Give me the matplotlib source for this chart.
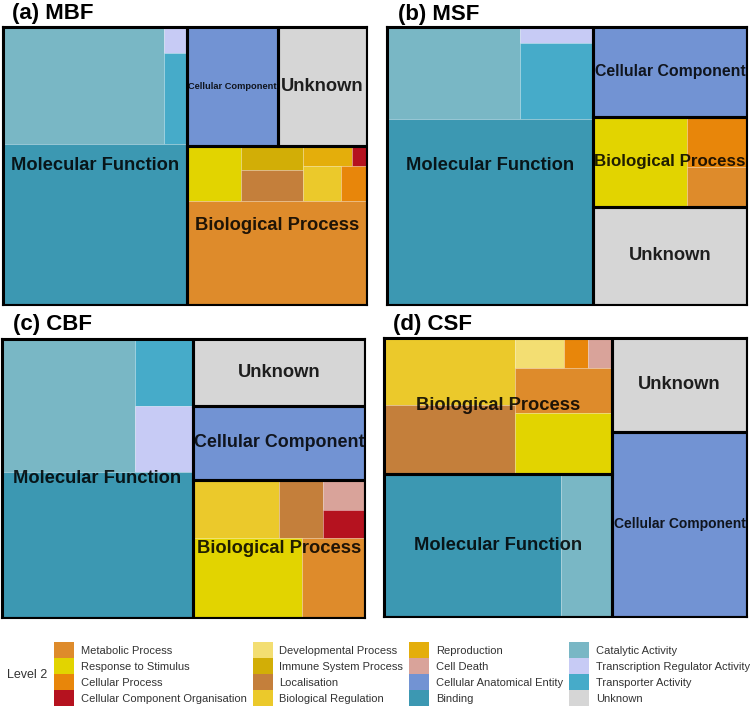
import matplotlib
matplotlib.use("Agg")
import matplotlib.pyplot as plt
from matplotlib.patches import Rectangle, Patch

plt.rcParams['font.family'] = ['Liberation Sans', 'DejaVu Sans']

# colour of each level-2 term
COLORS = {
    'Metabolic Process': '#DE8B2B',
    'Response to Stimulus': '#E2D400',
    'Cellular Process': '#E8860A',
    'Cellular Component Organisation': '#B5121F',
    'Developmental Process': '#F3DE72',
    'Immune System Process': '#D2AE06',
    'Localisation': '#C47F3B',
    'Biological Regulation': '#EBC92B',
    'Reproduction': '#E4AE0B',
    'Cell Death': '#D9A39A',
    'Cellular Anatomical Entity': '#7293D3',
    'Binding': '#3C98B2',
    'Catalytic Activity': '#79B7C5',
    'Transcription Regulator Activity': '#C7CBF5',
    'Transporter Activity': '#46ABC9',
    'Unknown': '#D6D6D6',
}
LEGEND_ORDER = list(COLORS)

MF_TERMS = ['Binding', 'Catalytic Activity', 'Transcription Regulator Activity', 'Transporter Activity']
GROUP_OF = {t: 'Biological Process' for t in COLORS}
GROUP_OF.update({t: 'Molecular Function' for t in MF_TERMS})
GROUP_OF['Cellular Anatomical Entity'] = 'Cellular Component'
GROUP_OF['Unknown'] = 'Unknown'

# (a) MBF, percentage of annotations
MBF_TERMS = ['Binding', 'Catalytic Activity', 'Transporter Activity', 'Transcription Regulator Activity',
             'Cellular Anatomical Entity', 'Unknown',
             'Metabolic Process', 'Response to Stimulus', 'Localisation', 'Immune System Process',
             'Biological Regulation', 'Reproduction', 'Cellular Process', 'Cellular Component Organisation']
MBF_PCT = [29.3, 18.6, 2.1, 0.6, 10.7, 10.5, 18.5, 2.9, 1.9, 1.5, 1.3, 0.95, 0.9, 0.3]

# (b) MSF
MSF_TERMS = ['Binding', 'Catalytic Activity', 'Transporter Activity', 'Transcription Regulator Activity',
             'Cellular Anatomical Entity', 'Unknown',
             'Response to Stimulus', 'Cellular Process', 'Metabolic Process']
MSF_PCT = [38.3, 12.2, 5.5, 1.2, 13.8, 15.1, 8.5, 3.0, 2.4]

# (c) CBF
CBF_TERMS = ['Binding', 'Catalytic Activity', 'Transporter Activity', 'Transcription Regulator Activity',
             'Cellular Anatomical Entity', 'Unknown',
             'Response to Stimulus', 'Biological Regulation', 'Metabolic Process', 'Localisation',
             'Cell Death', 'Cellular Component Organisation']
CBF_PCT = [27.4, 17.5, 3.8, 3.7, 12.6, 11.3, 8.6, 5.0, 4.9, 2.5, 1.25, 1.2]

# (d) CSF
CSF_TERMS = ['Binding', 'Catalytic Activity', 'Cellular Anatomical Entity', 'Unknown',
             'Localisation', 'Biological Regulation', 'Response to Stimulus', 'Metabolic Process',
             'Developmental Process', 'Cellular Process', 'Cell Death']
CSF_PCT = [25.0, 7.2, 24.7, 12.5, 8.9, 8.7, 5.8, 4.3, 1.45, 0.7, 0.7]

# split structure of each treemap ('h' = side by side, 'v' = stacked)
MBF_LAYOUT = (
    ('h', ['Molecular Function', ('v', [('h', ['Cellular Component', 'Unknown']), 'Biological Process'])]),
    {'Molecular Function': ('v', [('h', ['Catalytic Activity', ('v', ['Transcription Regulator Activity',
                                                                       'Transporter Activity'])]), 'Binding']),
     'Biological Process': ('v', [('h', ['Response to Stimulus',
                                         ('v', ['Immune System Process', 'Localisation']),
                                         ('v', [('h', ['Reproduction', 'Cellular Component Organisation']),
                                                ('h', ['Biological Regulation', 'Cellular Process'])])]),
                                  'Metabolic Process'])})
MSF_LAYOUT = (
    ('h', ['Molecular Function', ('v', ['Cellular Component', 'Biological Process', 'Unknown'])]),
    {'Molecular Function': ('v', [('h', ['Catalytic Activity', ('v', ['Transcription Regulator Activity',
                                                                       'Transporter Activity'])]), 'Binding']),
     'Biological Process': ('h', ['Response to Stimulus', ('v', ['Cellular Process', 'Metabolic Process'])])})
CBF_LAYOUT = (
    ('h', ['Molecular Function', ('v', ['Unknown', 'Cellular Component', 'Biological Process'])]),
    {'Molecular Function': ('v', [('h', ['Catalytic Activity', ('v', ['Transporter Activity',
                                                                       'Transcription Regulator Activity'])]), 'Binding']),
     'Biological Process': ('v', [('h', ['Biological Regulation', 'Localisation',
                                         ('v', ['Cell Death', 'Cellular Component Organisation'])]),
                                  ('h', ['Response to Stimulus', 'Metabolic Process'])])})
CSF_LAYOUT = (
    ('h', [('v', ['Biological Process', 'Molecular Function']), ('v', ['Unknown', 'Cellular Component'])]),
    {'Molecular Function': ('h', ['Binding', 'Catalytic Activity']),
     'Biological Process': ('h', [('v', ['Biological Regulation', 'Localisation']),
                                  ('v', [('h', ['Developmental Process', 'Cellular Process', 'Cell Death']),
                                         'Metabolic Process', 'Response to Stimulus'])])})

W, H = 750, 710
LABEL_SIZE = 13.2


def node_size(node, size):
    if isinstance(node, str):
        return size[node]
    return sum(node_size(k, size) for k in node[1])


def split(node, rect, size, out):
    x0, y0, x1, y1 = rect
    if isinstance(node, str):
        out[node] = rect
        return out
    orient, kids = node
    total = sum(node_size(k, size) for k in kids)
    pos = x0 if orient == 'h' else y0
    span = (x1 - x0) if orient == 'h' else (y1 - y0)
    for k in kids:
        step = span * node_size(k, size) / total
        if orient == 'h':
            split(k, (pos, y0, pos + step, y1), size, out)
        else:
            split(k, (x0, pos, x1, pos + step), size, out)
        pos += step
    return out


fig = plt.figure(figsize=(W / 100, H / 100), dpi=100)
renderer = fig.canvas.get_renderer()


def draw_panel(box, title, title_xy, terms, pct, layout):
    left, top, right, bottom = box
    ax = fig.add_axes([left / W, 1 - bottom / H, (right - left) / W, (bottom - top) / H])
    top_tree, sub_trees = layout
    term_size = dict(zip(terms, pct))
    group_size = {}
    for t, v in term_size.items():
        g = GROUP_OF[t]
        group_size[g] = group_size.get(g, 0) + v
    group_rects = split(top_tree, (0, 0, 1, 1), group_size, {})
    for g, r in group_rects.items():
        cells = split(sub_trees.get(g, [t for t in terms if GROUP_OF[t] == g][0]), r, term_size, {})
        for t, (x0, y0, x1, y1) in cells.items():
            ax.add_patch(Rectangle((x0, y0), x1 - x0, y1 - y0, facecolor=COLORS[t],
                                   edgecolor=(1, 1, 1, 0.25), lw=0.5))
    for g, (x0, y0, x1, y1) in group_rects.items():
        ax.add_patch(Rectangle((x0, y0), x1 - x0, y1 - y0, fill=False, edgecolor='black', lw=2.2))
        txt = ax.text((x0 + x1) / 2, (y0 + y1) / 2, g, ha='center', va='center',
                      fontsize=LABEL_SIZE, fontweight='bold', color='black', alpha=0.86)
        boxw = (x1 - x0) * (right - left) - 3
        tw = txt.get_window_extent(renderer).width
        if tw > boxw:
            txt.set_fontsize(LABEL_SIZE * boxw / tw)
    ax.set_xlim(0, 1)
    ax.set_ylim(1, 0)
    ax.set_xticks([])
    ax.set_yticks([])
    for s in ax.spines.values():
        s.set_linewidth(1.5)
    fig.text(title_xy[0] / W, 1 - title_xy[1] / H, title, fontsize=16, fontweight='bold',
             va='baseline', ha='left')


draw_panel((3, 27, 367, 305), '(a) MBF', (12, 18.5), MBF_TERMS, MBF_PCT, MBF_LAYOUT)
draw_panel((387, 27, 747, 305), '(b) MSF', (398, 20), MSF_TERMS, MSF_PCT, MSF_LAYOUT)
draw_panel((2, 339, 365, 618), '(c) CBF', (13, 330), CBF_TERMS, CBF_PCT, CBF_LAYOUT)
draw_panel((384, 338, 747, 617), '(d) CSF', (393, 330), CSF_TERMS, CSF_PCT, CSF_LAYOUT)

handles = [Patch(facecolor=COLORS[n], edgecolor='none', label=n) for n in LEGEND_ORDER]
fig.legend(handles=handles, loc='upper left', bbox_to_anchor=(54 / W, 1 - 642 / H), ncol=4,
           frameon=False, fontsize=8, handlelength=1.8, handleheight=1.85, handletextpad=0.6,
           labelspacing=0, columnspacing=0.55, borderpad=0, borderaxespad=0, labelcolor='#333333')
fig.text(7 / W, 1 - 675 / H, 'Level 2', fontsize=9, va='center', ha='left', color='#333333')

fig.savefig('out.png', dpi=100)
